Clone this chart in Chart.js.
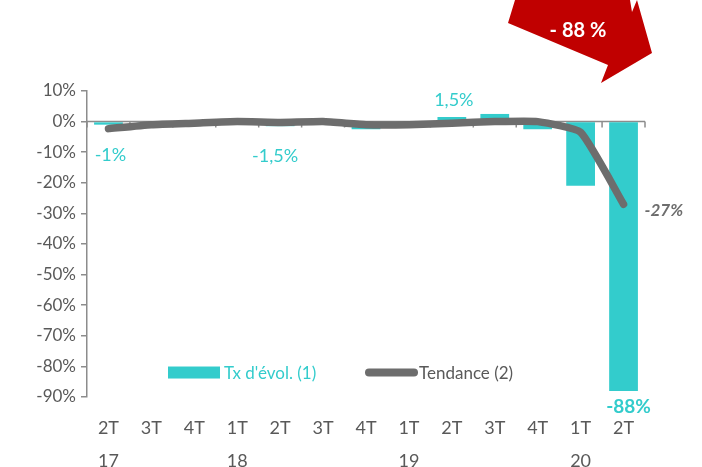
<!DOCTYPE html>
<html>
<head>
<meta charset="utf-8">
<script src="https://cdn.jsdelivr.net/npm/chart.js@4"></script>
<style>
  html, body { margin: 0; padding: 0; background: #fff; }
  #wrap { width: 702px; height: 467px; }
</style>
</head>
<body>
<div id="wrap"><canvas id="chart"></canvas></div>
<script>
const quarters = [["2T", "17"], ["3T", ""], ["4T", ""], ["1T", "18"], ["2T", ""], ["3T", ""], ["4T", ""], ["1T", "19"], ["2T", ""], ["3T", ""], ["4T", ""], ["1T", "20"], ["2T", ""]];
const evolution = [-1, -0.3, -0.2, -0.2, -1.5, -0.3, -2.5, -0.5, 1.5, 2.5, -2.5, -21, -88];
const trend = [-2.3, -1, -0.5, 0, -0.3, 0, -1, -1, -0.5, 0, 0, -3.5, -27];
const yTicks = [10, 0, -10, -20, -30, -40, -50, -60, -70, -80, -90];

const CYAN = "#33CCCC";
const GREY = "#6D6D6D";
const TEXT = "#595959";
const FONT = "Lato, 'Open Sans', sans-serif";

const decorPlugin = {
    id: "decor",
    beforeDatasetsDraw(chart) {
        const ctx = chart.ctx;
        const x = chart.scales.x;
        const y = chart.scales.y;
        const y0 = y.getPixelForValue(0);
        ctx.save();
        ctx.strokeStyle = "#8c8c8c";
        ctx.lineWidth = 1.5;
        ctx.beginPath();
        ctx.moveTo(chart.chartArea.left, y0);
        ctx.lineTo(chart.chartArea.right, y0);
        for (let i = 0; i <= quarters.length; i++) {
            const px = x.getPixelForValue(i - 0.5);
            ctx.moveTo(px, y0);
            ctx.lineTo(px, y0 + 6);
        }
        ctx.stroke();
        ctx.restore();
    },
    afterDraw(chart) {
        const ctx = chart.ctx;
        const x = chart.scales.x;
        const y = chart.scales.y;
        ctx.save();

        // value labels
        ctx.textAlign = "center";
        ctx.textBaseline = "middle";
        ctx.fillStyle = CYAN;
        ctx.font = "18px " + FONT;
        ctx.fillText("-1%", x.getPixelForValue(0) + 2, y.getPixelForValue(evolution[0]) + 31);
        ctx.fillText("-1,5%", x.getPixelForValue(4) - 5, y.getPixelForValue(evolution[4]) + 30);
        ctx.fillText("1,5%", x.getPixelForValue(8) + 2, y.getPixelForValue(evolution[8]) - 17);
        ctx.font = "bold 19px " + FONT;
        ctx.fillText("-88%", x.getPixelForValue(12) + 5, y.getPixelForValue(evolution[12]) + 16);
        ctx.fillStyle = GREY;
        ctx.font = "italic bold 17px " + FONT;
        ctx.textAlign = "left";
        ctx.fillText("-27%", x.getPixelForValue(12) + 21, y.getPixelForValue(trend[12]) + 6);

        // legend
        const ly = y.getPixelForValue(-82);
        ctx.fillStyle = CYAN;
        ctx.fillRect(168, ly - 6, 52, 12);
        ctx.font = "17px " + FONT;
        ctx.textAlign = "left";
        ctx.fillText("Tx d'évol. (1)", 224, ly + 1);
        ctx.strokeStyle = GREY;
        ctx.lineWidth = 8;
        ctx.lineCap = "round";
        ctx.beginPath();
        ctx.moveTo(369, ly);
        ctx.lineTo(414, ly);
        ctx.stroke();
        ctx.fillStyle = TEXT;
        ctx.fillText("Tendance (2)", 419, ly + 1);

        // red arrow
        ctx.fillStyle = "#C00000";
        ctx.beginPath();
        ctx.moveTo(515, 0);
        ctx.lineTo(630, 0);
        ctx.lineTo(632, 12);
        ctx.lineTo(637, 0);
        ctx.lineTo(652, 53);
        ctx.lineTo(601, 83);
        ctx.lineTo(608, 65);
        ctx.lineTo(508, 23);
        ctx.closePath();
        ctx.fill();
        ctx.fillStyle = "#fff";
        ctx.font = "bold 20px " + FONT;
        ctx.textAlign = "center";
        ctx.fillText("- 88 %", 578, 31);
        ctx.restore();
    }
};

new Chart(document.getElementById("chart").getContext("2d"), {
    type: "bar",
    data: {
        labels: quarters,
        datasets: [{
            type: "line",
            label: "Tendance (2)",
            data: trend,
            borderColor: GREY,
            borderWidth: 7.5,
            borderCapStyle: "round",
            borderJoinStyle: "round",
            pointRadius: 0,
            tension: 0.15,
            fill: false,
            order: 0
        }, {
            label: "Tx d'évol. (1)",
            data: evolution,
            backgroundColor: CYAN,
            barPercentage: 0.67,
            categoryPercentage: 1,
            order: 1
        }]
    },
    options: {
        responsive: true,
        maintainAspectRatio: false,
        animation: false,
        layout: { padding: { top: 91, right: 57, left: 0, bottom: 0 } },
        plugins: {
            legend: { display: false },
            tooltip: { enabled: false }
        },
        scales: {
            x: {
                grid: { display: false, drawTicks: false },
                border: { display: false },
                ticks: {
                    color: TEXT,
                    padding: 15,
                    maxRotation: 0,
                    autoSkip: false,
                    font: { family: FONT, size: 18, lineHeight: 1.83 }
                },
                afterFit(scale) { scale.height = 70; }
            },
            y: {
                min: -90,
                max: 10,
                afterBuildTicks(scale) { scale.ticks = yTicks.map(v => ({ value: v })); },
                grid: { drawOnChartArea: false, tickLength: 6, color: "#8c8c8c", lineWidth: 1.5 },
                border: { color: "#8c8c8c", width: 1.5 },
                ticks: {
                    color: TEXT,
                    padding: 5,
                    font: { family: FONT, size: 17 },
                    callback: v => v + "%"
                },
                afterFit(scale) { scale.width = 87; }
            }
        }
    },
    plugins: [decorPlugin]
});
</script>
</body>
</html>
